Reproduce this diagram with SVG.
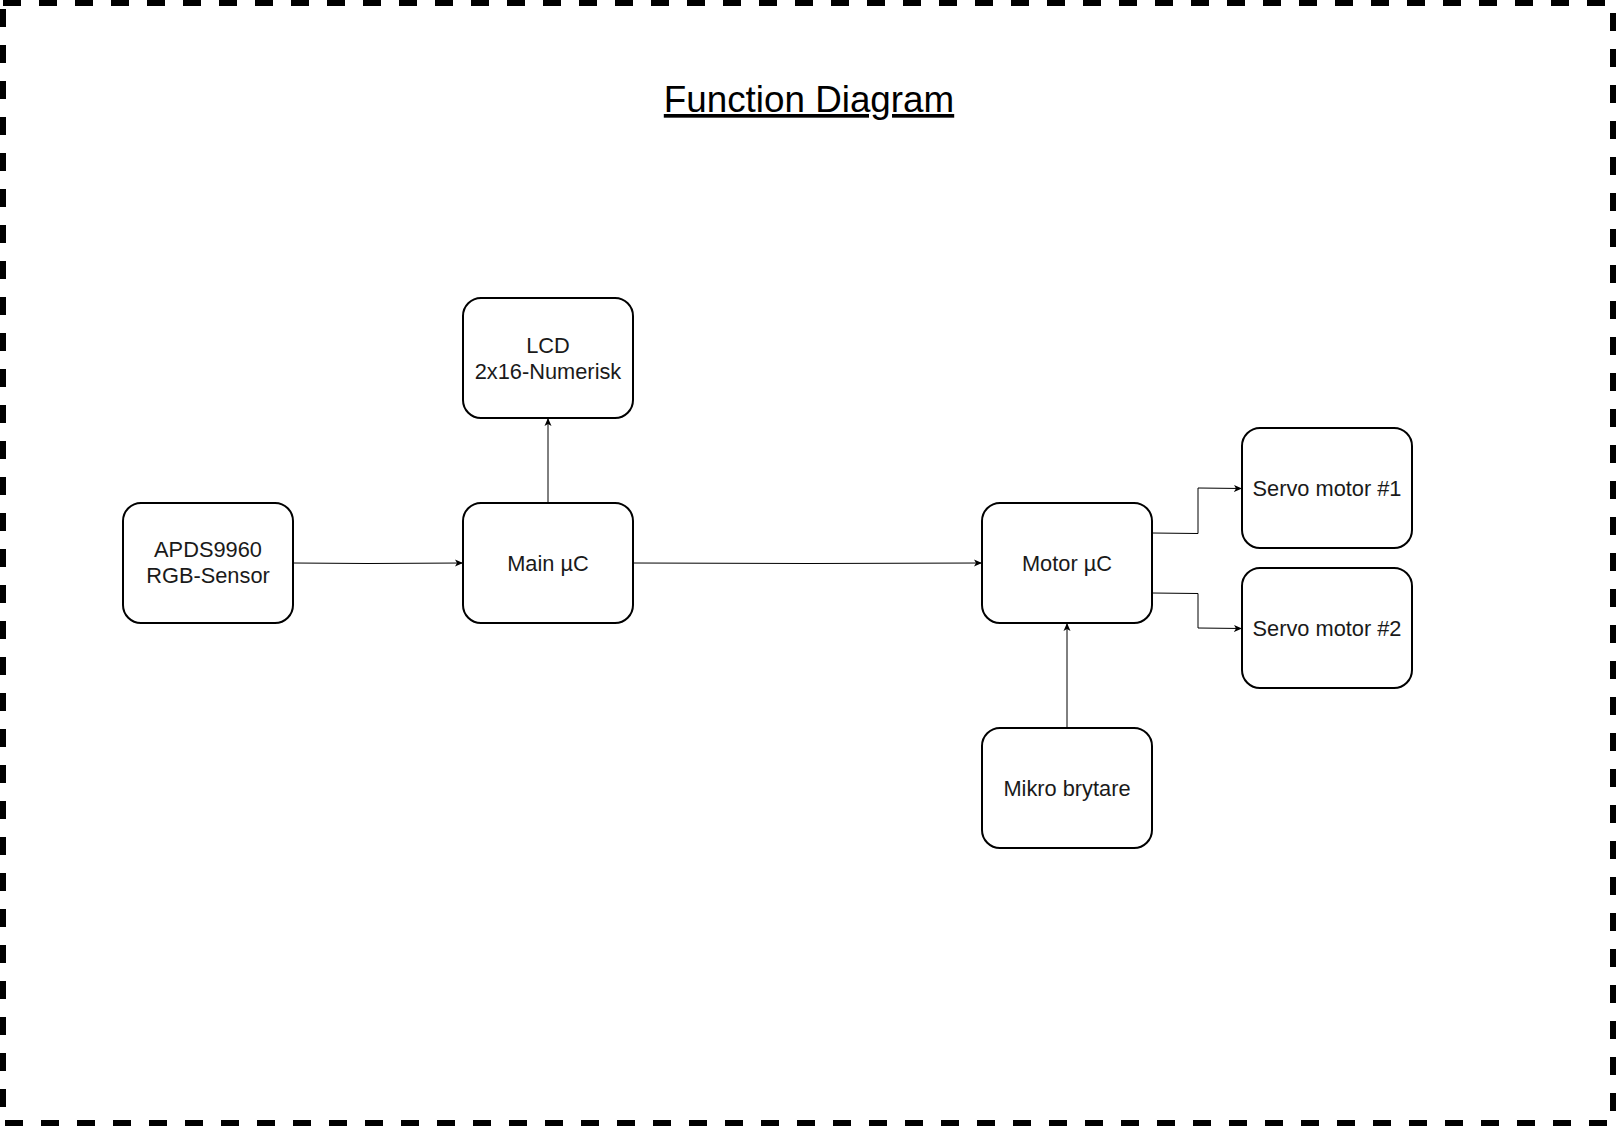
<svg xmlns="http://www.w3.org/2000/svg" width="1616" height="1126" viewBox="0 0 1616 1126">
<defs>
<style>
.node rect{fill:#ffffff;stroke:#000000;stroke-width:2}
.node text{font-family:"Liberation Sans",Arial,sans-serif;font-size:21.8px;fill:#1a1a1a;text-anchor:middle}
.conn path{fill:none;stroke:#000000;stroke-width:1}
</style>
<marker id="arr" markerWidth="10" markerHeight="10" refX="8" refY="4" orient="auto" markerUnits="userSpaceOnUse">
<path d="M0,0.5 L8,4 L0,7.5 L2,4 Z" fill="#000000"/>
</marker>
</defs>
<rect x="0" y="0" width="1616" height="1126" fill="#ffffff"/>
<rect id="frame" x="3" y="3" width="1610" height="1120" fill="none" stroke="#000000" stroke-width="6" stroke-dasharray="18 18"/>
<text id="title" x="809" y="112" font-family="'Liberation Sans',Arial,sans-serif" font-size="36.8" text-anchor="middle" text-decoration="underline" fill="#000000">Function Diagram</text>
<g class="conn" id="connectors">
<path d="M293,563 L368,563.5 L463,563" marker-end="url(#arr)"/>
<path d="M548,503 L548,418" marker-end="url(#arr)"/>
<path d="M633,563 L808,563.5 L982,563" marker-end="url(#arr)"/>
<path d="M1152,533 L1198,533.5 L1198,488 L1242,488.5" marker-end="url(#arr)"/>
<path d="M1152,593 L1198,593.5 L1198,628 L1242,628.5" marker-end="url(#arr)"/>
<path d="M1067,728 L1067,623" marker-end="url(#arr)"/>
</g>
<g class="node" id="apds">
<rect x="123" y="503" width="170" height="120" rx="18" ry="18"/>
<text x="208" y="557">APDS9960</text>
<text x="208" y="583">RGB-Sensor</text>
</g>
<g class="node" id="main">
<rect x="463" y="503" width="170" height="120" rx="18" ry="18"/>
<text x="548" y="570.5">Main µC</text>
</g>
<g class="node" id="lcd">
<rect x="463" y="298" width="170" height="120" rx="18" ry="18"/>
<text x="548" y="352.5">LCD</text>
<text x="548" y="378.5">2x16-Numerisk</text>
</g>
<g class="node" id="motor">
<rect x="982" y="503" width="170" height="120" rx="18" ry="18"/>
<text x="1067" y="570.5">Motor µC</text>
</g>
<g class="node" id="servo1">
<rect x="1242" y="428" width="170" height="120" rx="18" ry="18"/>
<text x="1327" y="495.5">Servo motor #1</text>
</g>
<g class="node" id="servo2">
<rect x="1242" y="568" width="170" height="120" rx="18" ry="18"/>
<text x="1327" y="635.5">Servo motor #2</text>
</g>
<g class="node" id="mikro">
<rect x="982" y="728" width="170" height="120" rx="18" ry="18"/>
<text x="1067" y="795.5">Mikro brytare</text>
</g>
</svg>
